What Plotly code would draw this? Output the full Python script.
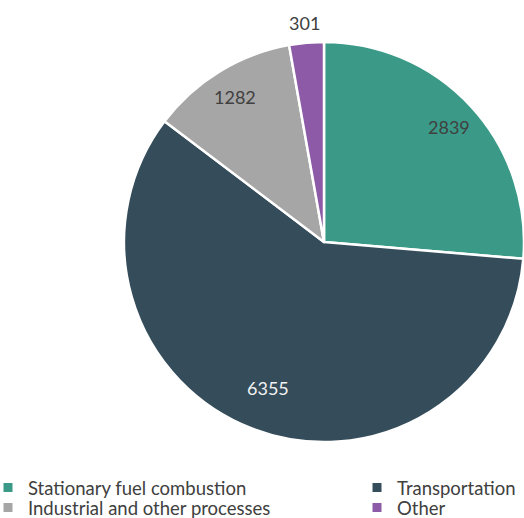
import math
import plotly.graph_objects as go

categories = ["Stationary fuel combustion", "Transportation", "Industrial and other processes", "Other"]
values = [2839, 6355, 1282, 301]
colors = ["#3A9A87", "#354D5B", "#A6A6A6", "#8C5AA6"]
label_colors = ["#404040", "#F2F2F2", "#404040", "#404040"]

W, H = 524, 518
cx, cy, R = 324, 242, 200  # pixel centre/radius of the pie
dom_x = [max(0, (cx - R) / W), min(1, (cx + R) / W)]
dom_y = [(H - cy - R) / H, (H - cy + R) / H]

fig = go.Figure()
fig.add_trace(go.Pie(
    labels=categories, values=values, sort=False, direction="clockwise", rotation=0,
    marker=dict(colors=colors, line=dict(color="white", width=2.5)),
    textinfo="none", hoverinfo="label+value", showlegend=False,
    domain=dict(x=dom_x, y=dom_y),
))

# legend entries (two columns, like the original)
legend_pos = [(28, 488), (397, 488), (28, 508), (397, 508)]  # text start x, row centre y (px)
for i, (cat, col) in enumerate(zip(categories, colors)):
    lname = "legend" if i == 0 else f"legend{i+1}"
    fig.add_trace(go.Scatter(x=[None], y=[None], mode="markers", name=cat,
                             marker=dict(symbol="square", size=9, color=col),
                             legend=lname, showlegend=True, hoverinfo="skip"))

legend_layout = {}
for i, (tx, ty) in enumerate(legend_pos):
    lname = "legend" if i == 0 else f"legend{i+1}"
    legend_layout[lname] = dict(x=(tx - 40) / W, xanchor="left", y=1 - ty / H, yanchor="middle",
                                font=dict(size=18.5, color="#404040", family="Lato"),
                                bgcolor="rgba(0,0,0,0)", borderwidth=0, itemwidth=30)

# data labels placed at slice mid-angles
total = sum(values)
cum = 0
label_r = [0.85, 0.78, 0.85, 1.10]
ann = []
for v, rf, lc in zip(values, label_r, label_colors):
    mid = (cum + v / 2) / total * 2 * math.pi
    cum += v
    px = cx + rf * R * math.sin(mid)
    py = cy - rf * R * math.cos(mid)
    ann.append(dict(x=px / W, y=1 - py / H, xref="paper", yref="paper", text=str(v),
                    xanchor="center", yanchor="middle",
                    showarrow=False, font=dict(size=18, color=lc, family="Lato")))

fig.update_layout(
    width=W, height=H, margin=dict(l=0, r=0, t=0, b=0, autoexpand=False),
    paper_bgcolor="white", plot_bgcolor="white",
    font=dict(family="Lato", color="#404040"),
    annotations=ann,
    xaxis=dict(visible=False), yaxis=dict(visible=False),
    showlegend=True,
    **legend_layout,
)

fig.write_html("out.html", config={"displayModeBar": False},
               post_script="document.body.style.margin='0';document.body.style.overflow='hidden';")
